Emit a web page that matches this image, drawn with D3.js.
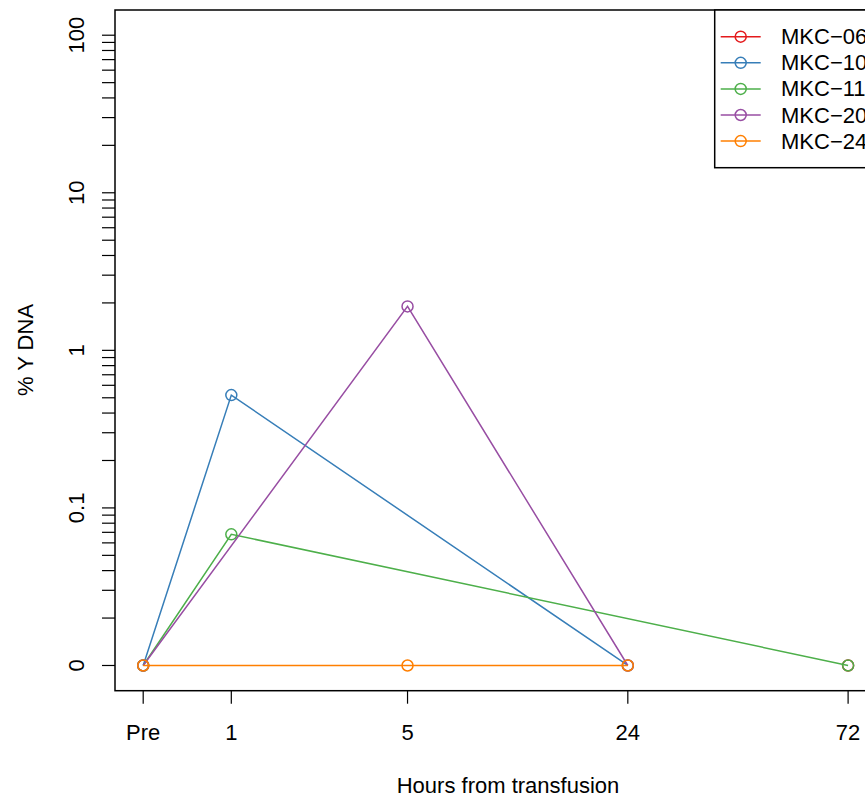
<!DOCTYPE html>
<html>
<head>
<meta charset="utf-8">
<script src="https://cdn.jsdelivr.net/npm/d3@7"></script>
<style>
  body { margin: 0; background: #fff; }
  svg text { font-family: "Liberation Sans", Arial, Helvetica, sans-serif; fill: #000; }
</style>
</head>
<body>
<svg id="chart" width="865" height="796"></svg>
<script>
// time points (label + position on the drawn axis)
var hourLabels = ["Pre", "1", "5", "24", "72"];
var hourPos = [0, 1, 3, 5.5, 8];

// % Y DNA per donor, null = not measured
var seriesNames = ["MKC\u221206", "MKC\u221210", "MKC\u221211", "MKC\u221220", "MKC\u221224"];
var seriesColors = ["#E41A1C", "#377EB8", "#4DAF4A", "#984EA3", "#FF7F00"];
var mkc06 = [null, null, null, null, 0];
var mkc10 = [0, 0.52, null, 0, null];
var mkc11 = [0, 0.068, null, null, 0];
var mkc20 = [0, null, 1.9, 0, null];
var mkc24 = [0, null, 0, 0, null];
var seriesValues = [mkc06, mkc10, mkc11, mkc20, mkc24];

// y ticks: 0 is drawn at the 0.01 position
var yTickValues = [0.01, 0.1, 1, 10, 100];
var yTickLabels = ["0", "0.1", "1", "10", "100"];

var svg = d3.select("#chart");
var pLeft = 115, pTop = 10, pBottom = 690.7, pRight = 876.3;
var fs = 22;

var x = d3.scaleLinear().domain([-0.32, 8.32]).range([pLeft, pRight]);
// log10 scale on values floored at 0.01
var ly = d3.scaleLinear().domain([-2.16, 2.16]).range([pBottom, pTop]);
function y(v) { return ly(Math.log10(Math.max(v, 0.01))); }

// plot box
svg.append("rect")
  .attr("x", pLeft).attr("y", pTop)
  .attr("width", pRight - pLeft).attr("height", pBottom - pTop)
  .attr("fill", "none").attr("stroke", "#000").attr("stroke-width", 1.5);

// x axis
var xg = svg.append("g");
hourPos.forEach(function(p, i) {
  xg.append("line")
    .attr("x1", x(p)).attr("x2", x(p))
    .attr("y1", pBottom).attr("y2", pBottom + 13)
    .attr("stroke", "#000").attr("stroke-width", 1.2);
  xg.append("text")
    .attr("x", x(p)).attr("y", 739.5)
    .attr("text-anchor", "middle")
    .attr("font-size", fs)
    .text(hourLabels[i]);
});

// y axis with minor ticks
var yg = svg.append("g");
var minor = [];
for (var d = -2; d < 2; d++) {
  for (var k = 1; k <= 9; k++) minor.push(k * Math.pow(10, d));
}
minor.push(100);
minor.forEach(function(v) {
  yg.append("line")
    .attr("x1", pLeft - 13).attr("x2", pLeft)
    .attr("y1", y(v)).attr("y2", y(v))
    .attr("stroke", "#000").attr("stroke-width", 1.2);
});
yTickValues.forEach(function(v, i) {
  yg.append("text")
    .attr("transform", "translate(84," + y(v) + ") rotate(-90)")
    .attr("text-anchor", "middle")
    .attr("font-size", fs)
    .text(yTickLabels[i]);
});

// axis titles
svg.append("text")
  .attr("x", 508).attr("y", 793)
  .attr("text-anchor", "middle").attr("font-size", fs)
  .text("Hours from transfusion");
svg.append("text")
  .attr("transform", "translate(33,350) rotate(-90)")
  .attr("text-anchor", "middle").attr("font-size", fs)
  .text("% Y DNA");

// series: lines skip missing points, circles at measured points
var clip = svg.append("defs").append("clipPath").attr("id", "plotclip");
clip.append("rect").attr("x", pLeft).attr("y", pTop)
  .attr("width", pRight - pLeft).attr("height", pBottom - pTop);
var plot = svg.append("g").attr("clip-path", "url(#plotclip)");

var line = d3.line().x(function(d) { return x(d.p); }).y(function(d) { return y(d.v); });

seriesValues.forEach(function(vals, s) {
  var pts = [];
  vals.forEach(function(v, i) { if (v !== null) pts.push({p: hourPos[i], v: v}); });
  plot.append("path")
    .datum(pts)
    .attr("d", line)
    .attr("fill", "none")
    .attr("stroke", seriesColors[s])
    .attr("stroke-width", 1.5);
  plot.selectAll(null)
    .data(pts).enter()
    .append("circle")
    .attr("cx", function(d) { return x(d.p); })
    .attr("cy", function(d) { return y(d.v); })
    .attr("r", 5.5)
    .attr("fill", "none")
    .attr("stroke", seriesColors[s])
    .attr("stroke-width", 1.5);
});

// legend
var lg = svg.append("g");
lg.append("rect")
  .attr("x", 714.7).attr("y", pTop)
  .attr("width", 200).attr("height", 157.7)
  .attr("fill", "#fff").attr("stroke", "#000").attr("stroke-width", 1.5);
seriesNames.forEach(function(name, i) {
  var ly0 = 36.7 + i * 26.1;
  lg.append("line")
    .attr("x1", 720.7).attr("x2", 760.7)
    .attr("y1", ly0).attr("y2", ly0)
    .attr("stroke", seriesColors[i]).attr("stroke-width", 1.5);
  lg.append("circle")
    .attr("cx", 740.7).attr("cy", ly0).attr("r", 5.5)
    .attr("fill", "none").attr("stroke", seriesColors[i]).attr("stroke-width", 1.5);
  lg.append("text")
    .attr("x", 781).attr("y", ly0 + 7.5)
    .attr("font-size", fs)
    .text(name);
});
</script>
</body>
</html>
